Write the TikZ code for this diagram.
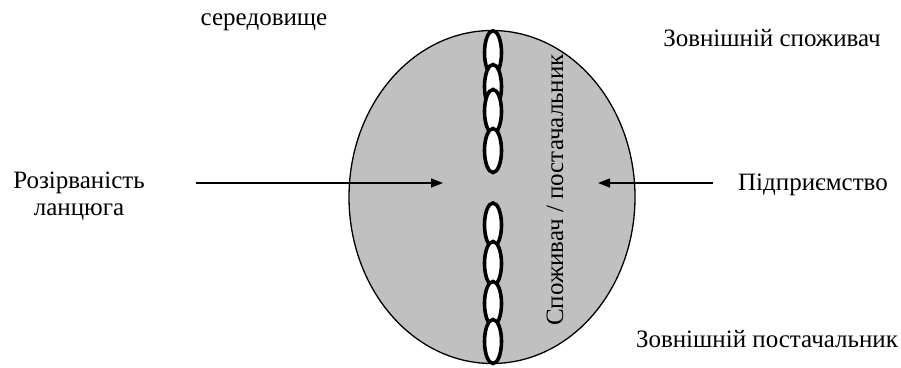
\documentclass[tikz,border=0pt]{standalone}
\usepackage{fontspec}
\setmainfont{Liberation Serif}
\usetikzlibrary{arrows.meta,shapes.geometric}
\definecolor{oval}{HTML}{C0C0C0}
\tikzset{
  lbl/.style={font=\fontsize{25}{27}\selectfont, inner sep=0pt, align=center, anchor=base},
  link/.style={draw=black, line width=3.6pt, fill=white, ellipse, minimum width=17pt, minimum height=44pt, inner sep=0pt},
  arr/.style={line width=1.4pt, -{Triangle[length=12pt,width=9pt]}}
}
\begin{document}
\begin{tikzpicture}[x=1pt,y=-1pt]
\useasboundingbox (0,0) rectangle (901,367);
\node[draw=black, line width=1.3pt, fill=oval, ellipse, minimum width=286pt, minimum height=333pt, inner sep=0pt] (env) at (492,197) {};
% top chain
\node[link] (t1) at (493,52.8) {};
\node[link] (t2) at (493,86.5) {};
\node[link] (t3) at (493,111.5) {};
\node[link] (t4) at (493,150.5) {};
% bottom chain
\node[link] (b1) at (493,225) {};
\node[link] (b2) at (493,263.5) {};
\node[link] (b3) at (493,303.5) {};
\node[link] (b4) at (493,341.5) {};
% texts
\node[lbl] (sered) at (264,25) {середовище};
\node[lbl] (cons) at (772,46) {Зовнішній споживач};
\node[lbl] (supp) at (767,347) {Зовнішній постачальник};
\node[lbl] (rozir) at (79,188) {Розірваність};
\node[lbl] (lanc) at (79,215) {ланцюга};
\node[lbl] (pidp) at (813,190) {Підприємство};
\node[lbl, rotate=90] (sp) at (563,190) {Споживач / постачальник};
% arrows
\coordinate (la) at (196,183);
\coordinate (lb) at (443,183);
\coordinate (ra) at (713,183);
\coordinate (rb) at (598,183);
\draw[arr] (la) -- (lb);
\draw[arr] (ra) -- (rb);
\end{tikzpicture}
\end{document}
